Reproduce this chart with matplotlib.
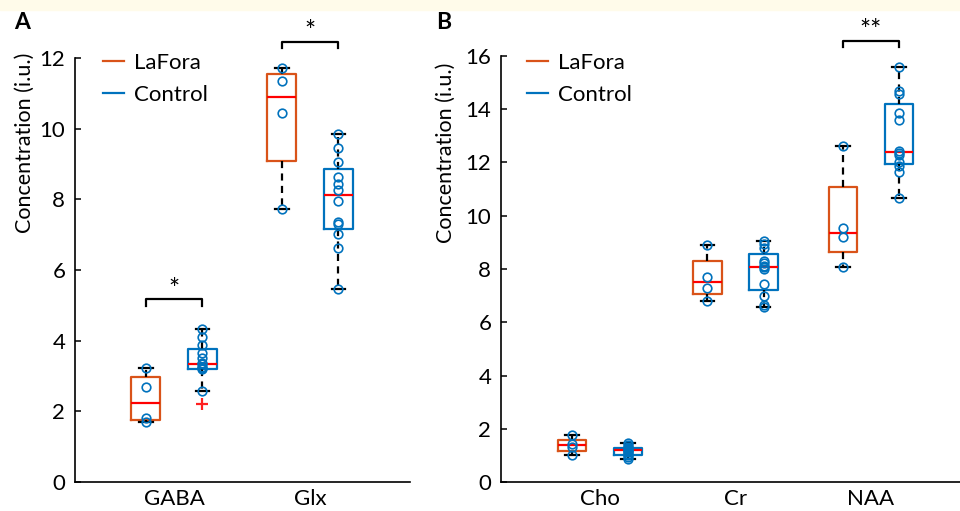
import numpy as np
import matplotlib
matplotlib.use('Agg')
import matplotlib.pyplot as plt
from matplotlib.lines import Line2D
from matplotlib.patches import Rectangle

plt.rcParams['font.family'] = ['Lato', 'DejaVu Sans']

# ---------------- data ----------------
cats_a = ['GABA', 'Glx']
cats_b = ['Cho', 'Cr', 'NAA']
series = ['LaFora', 'Control']

gaba_lafora = [1.70, 1.80, 2.70, 3.23]
gaba_control = [2.20, 2.58, 3.20, 3.22, 3.26, 3.33, 3.36, 3.52, 3.65, 3.88, 4.11, 4.33]
glx_lafora = [7.72, 10.44, 11.36, 11.73]
glx_control = [5.46, 6.61, 7.02, 7.30, 7.35, 7.96, 8.26, 8.43, 8.62, 9.07, 9.46, 9.84]

cho_lafora = [1.00, 1.33, 1.42, 1.76]
cho_control = [0.85, 0.95, 1.00, 1.06, 1.12, 1.17, 1.21, 1.25, 1.27, 1.30, 1.38, 1.45]
cr_lafora = [6.80, 7.29, 7.71, 8.92]
cr_control = [6.56, 6.64, 7.00, 7.42, 8.00, 8.06, 8.10, 8.21, 8.31, 8.80, 8.95, 9.06]
naa_lafora = [8.07, 9.19, 9.53, 12.63]
naa_control = [10.68, 11.65, 11.88, 12.00, 12.30, 12.35, 12.42, 13.60, 13.85, 14.56, 14.69, 15.58]

C_LAF = '#D95319'
C_CON = '#0072BD'
C_PT = '#0072BD'


def box_stats(vals):
    x = np.sort(np.asarray(vals, float))
    q1, med, q3 = np.percentile(x, [25, 50, 75], method='hazen')
    iqr = q3 - q1
    lo = x[x >= q1 - 1.5 * iqr].min()
    hi = x[x <= q3 + 1.5 * iqr].max()
    fl = x[(x < lo) | (x > hi)]
    return dict(med=med, q1=q1, q3=q3, whislo=lo, whishi=hi, fliers=fl), lo, hi


def draw_box(ax, vals, pos, color):
    st, lo, hi = box_stats(vals)
    ax.bxp([st], positions=[pos], widths=0.21, capwidths=0.1, manage_ticks=False,
           boxprops=dict(color=color, lw=1.6),
           medianprops=dict(color='#FF0000', lw=1.6),
           whiskerprops=dict(color='k', lw=1.6, ls=(0, (3.2, 2.4))),
           capprops=dict(color='k', lw=1.6),
           flierprops=dict(marker='+', markeredgecolor='#FF2020', markersize=8, mew=1.6))
    v = np.asarray(vals, float)
    inl = v[(v >= lo) & (v <= hi)]
    ax.plot(np.full(len(inl), pos), inl, 'o', mfc='none', mec=C_PT, ms=6.2, mew=1.2,
            zorder=5, clip_on=False)
    return st


def bracket(ax, x1, x2, y0, y1, label, ty):
    ax.plot([x1, x1, x2, x2], [y0, y1, y1, y0], color='k', lw=1.6, clip_on=False)
    ax.text((x1 + x2) / 2, ty, label, ha='center', va='baseline', fontsize=19, clip_on=False)


fig = plt.figure(figsize=(9.6, 5.11), dpi=100)
fig.patches.append(Rectangle((0, 1 - 10 / 511), 1, 10 / 511, transform=fig.transFigure,
                             color='#FFFBEA', zorder=0))

H = 511.0
W = 960.0
axA = fig.add_axes([75 / W, (H - 482) / H, 335 / W, 424 / H])
axB = fig.add_axes([501 / W, (H - 482) / H, 459 / W, 426 / H])

off = 0.208

# panel A
dataA = [(gaba_lafora, gaba_control), (glx_lafora, glx_control)]
for i, (laf, con) in enumerate(dataA):
    draw_box(axA, laf, i + 1 - off, C_LAF)
    draw_box(axA, con, i + 1 + off, C_CON)
axA.set_xlim(0.272, 2.735)
axA.set_ylim(0, 12)
axA.set_yticks(np.arange(0, 13, 2))
axA.set_xticks([1, 2])
axA.set_xticklabels(cats_a)

# panel B
dataB = [(cho_lafora, cho_control), (cr_lafora, cr_control), (naa_lafora, naa_control)]
for i, (laf, con) in enumerate(dataB):
    draw_box(axB, laf, i + 1 - off, C_LAF)
    draw_box(axB, con, i + 1 + off, C_CON)
axB.set_xlim(0.269, 3.657)
axB.set_ylim(0, 16)
axB.set_yticks(np.arange(0, 17, 2))
axB.set_xticks([1, 2, 3])
axB.set_xticklabels(cats_b)

for ax in (axA, axB):
    for s in ('top', 'right'):
        ax.spines[s].set_visible(False)
    for s in ('left', 'bottom'):
        ax.spines[s].set_linewidth(1.2)
    ax.tick_params(axis='y', direction='in', length=4, width=1.1, labelsize=16, pad=7)
    ax.tick_params(axis='x', length=0, labelsize=16, pad=5)
    ax.set_ylabel('Concentration (i.u.)', fontsize=15.5)
    ax.patch.set_alpha(0)

axA.yaxis.set_label_coords(-0.12, 0.80)
axB.yaxis.set_label_coords(-0.098, 0.772)

# brackets
bracket(axA, 1 - off, 1 + off, 4.98, 5.17, '*', 5.22)
bracket(axA, 2 - off, 2 + off, 12.27, 12.46, '*', 12.50)
bracket(axB, 3 - off, 3 + off, 16.33, 16.58, '**', 16.62)

# legends
handles = [Line2D([], [], color=C_LAF, lw=1.6), Line2D([], [], color=C_CON, lw=1.6)]
for ax, bx, by in ((axA, 0.084, 1.012), (axB, 0.057, 1.007)):
    ax.legend(handles, series, loc='upper left', bbox_to_anchor=(bx, by), frameon=False,
              fontsize=16, handlelength=0.95, handletextpad=0.45, labelspacing=0.55,
              borderpad=0, borderaxespad=0)

fig.text(14 / W, 1 - 29 / H, 'A', fontsize=16.5, weight='bold', va='baseline')
fig.text(436 / W, 1 - 29 / H, 'B', fontsize=16.5, weight='bold', va='baseline')

fig.savefig('out.png', dpi=100)
